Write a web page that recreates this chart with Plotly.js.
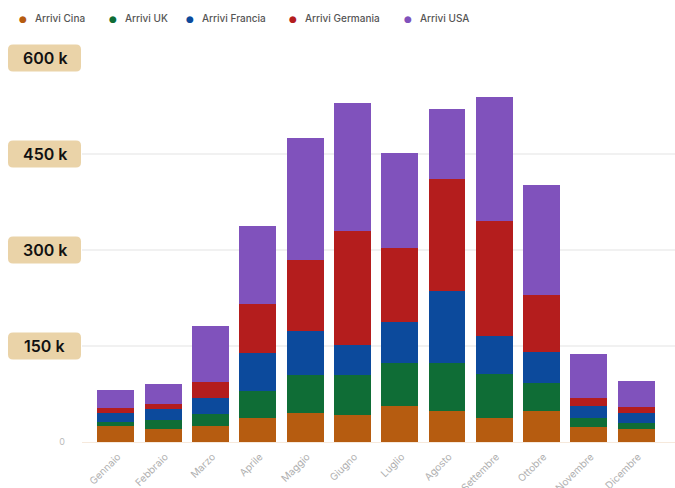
<!DOCTYPE html>
<html>
<head>
<meta charset="utf-8">
<script src="https://cdn.plot.ly/plotly-3.0.1.min.js"></script>
<style>html,body{margin:0;padding:0;background:#fff;}#chart{width:675px;height:488px;}</style>
</head>
<body>
<div id="chart"></div>
<script>
// ---- data ----
const mesi = ["Gennaio","Febbraio","Marzo","Aprile","Maggio","Giugno","Luglio","Agosto","Settembre","Ottobre","Novembre","Dicembre"];
const seriesNames = ["Arrivi Cina","Arrivi UK","Arrivi Francia","Arrivi Germania","Arrivi USA"];
const arriviCina     = [25, 20, 25, 37, 45, 42, 57, 49, 37, 49, 24, 20];
const arriviUK       = [7, 14, 19, 42, 59, 63, 66, 74, 69, 43, 14, 9];
const arriviFrancia  = [13, 18, 25, 60, 69, 47, 64, 113, 59, 49, 18, 16];
const arriviGermania = [8, 7, 24, 77, 112, 177, 116, 175, 180, 89, 13, 10];
const arriviUSA      = [28, 32, 88, 121, 190, 200, 149, 110, 194, 171, 69, 41];
const yTickVals   = [0, 150, 300, 450, 600];
const yTickLabels = ["0", "150 k", "300 k", "450 k", "600 k"];

// ---- styles ----
const colors = ["#b65c10", "#0f6d36", "#0c4a9c", "#b41d1d", "#8052bc"];
const seriesValues = [arriviCina, arriviUK, arriviFrancia, arriviGermania, arriviUSA];
const legendMarkerPx = [23, 113, 190, 293, 408];
const plotLeft = 82, plotWidth = 593, plotTop = 58, plotHeight = 384;
const yMax = 600;
const pxToPaperX = px => (px - plotLeft) / plotWidth;
const pxToPaperY = py => 1 + (plotTop - py) / plotHeight;

const traces = seriesNames.map((name, i) => ({
  type: "bar",
  name: name,
  x: mesi,
  y: seriesValues[i],
  marker: {color: colors[i], line: {width: 0}},
  showlegend: false,
  hovertemplate: "%{x}: %{y} k<extra>" + name + "</extra>"
}));

const annotations = [];
const shapes = [];

// legend (drawn as text)
seriesNames.forEach((name, i) => {
  annotations.push({
    xref: "paper", yref: "paper",
    x: pxToPaperX(legendMarkerPx[i]), y: pxToPaperY(18.5),
    xanchor: "center", yanchor: "middle",
    text: "●", showarrow: false,
    font: {family: "DejaVu Sans", size: 9, color: colors[i]}
  });
  annotations.push({
    xref: "paper", yref: "paper",
    x: pxToPaperX(legendMarkerPx[i] + 10), y: pxToPaperY(18),
    xanchor: "left", yanchor: "middle",
    text: name, showarrow: false,
    font: {family: "Inter", size: 10, color: "#555", weight: 500}
  });
});

// y tick labels in rounded tan boxes
const boxL = -74, boxR = -1, boxH = 13.5, r = 5;
yTickVals.forEach((v, i) => {
  if (v === 0) return;
  const x0 = boxL, x1 = boxR, y0 = -boxH, y1 = boxH;
  const path = `M ${x0 + r},${y0} L ${x1 - r},${y0} Q ${x1},${y0} ${x1},${y0 + r} L ${x1},${y1 - r} Q ${x1},${y1} ${x1 - r},${y1} L ${x0 + r},${y1} Q ${x0},${y1} ${x0},${y1 - r} L ${x0},${y0 + r} Q ${x0},${y0} ${x0 + r},${y0} Z`;
  shapes.push({
    type: "path", xref: "paper", yref: "paper",
    xsizemode: "pixel", ysizemode: "pixel",
    xanchor: 0, yanchor: v / yMax,
    path: path,
    fillcolor: "#ead3a8", line: {width: 0}, layer: "above"
  });
  annotations.push({
    xref: "paper", yref: "paper",
    x: pxToPaperX(44.5), y: v / yMax,
    xanchor: "center", yanchor: "middle",
    text: yTickLabels[i], showarrow: false,
    font: {family: "Inter", size: 16, color: "#111", weight: 600}
  });
});

const layout = {
  width: 675, height: 488,
  margin: {l: plotLeft, r: 0, t: plotTop, b: 488 - plotTop - plotHeight, pad: 0},
  paper_bgcolor: "#ffffff",
  plot_bgcolor: "#ffffff",
  barmode: "stack",
  bargap: 0.22,
  showlegend: false,
  font: {family: "Inter", color: "#999"},
  xaxis: {
    type: "category",
    range: [-0.715, 11.82],
    tickangle: -45,
    tickfont: {family: "Inter", size: 10, color: "#b0b0b0"},
    ticklabelshift: 2,
    ticklabelstandoff: 6,
    showgrid: false, zeroline: false, showline: false,
    ticks: "", fixedrange: true
  },
  yaxis: {
    range: [0, yMax],
    tickvals: yTickVals,
    ticktext: yTickVals.map((v, i) => v === 0 ? yTickLabels[i] : ""),
    tickfont: {family: "Inter", size: 9, color: "#bbb"},
    ticklabelstandoff: 16,
    showgrid: true, gridcolor: "#f1f1f1", gridwidth: 1.5,
    zeroline: true, zerolinecolor: "#f6e9dc", zerolinewidth: 1,
    showline: false, ticks: "", fixedrange: true
  },
  shapes: shapes,
  annotations: annotations
};

Plotly.newPlot("chart", traces, layout, {displayModeBar: false, staticPlot: true});
</script>
</body>
</html>
